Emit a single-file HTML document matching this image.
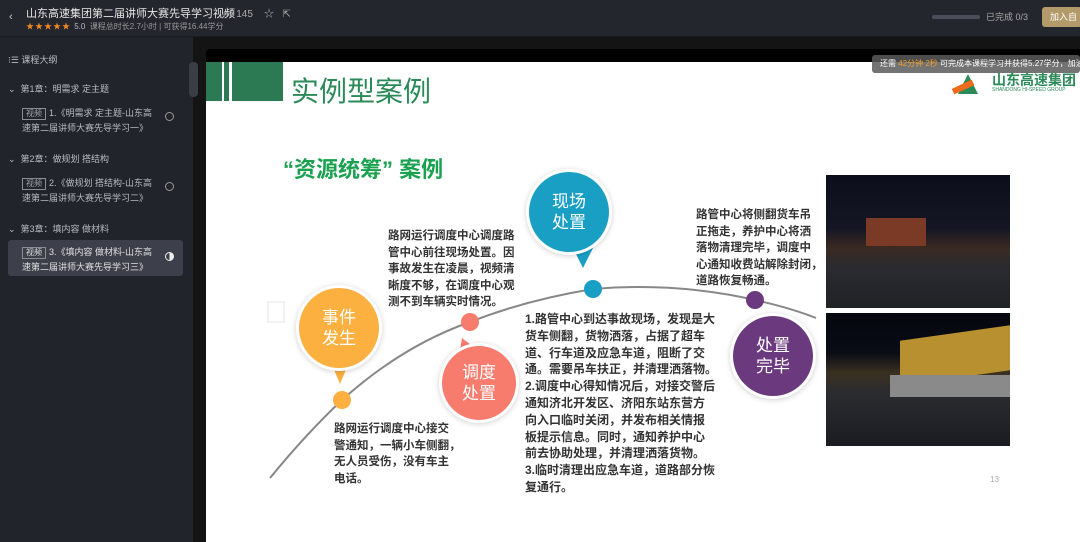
<!DOCTYPE html>
<html><head><meta charset="utf-8"><style>
*{margin:0;padding:0;box-sizing:border-box}
body{width:1080px;height:542px;overflow:hidden;background:#141414;font-family:"Liberation Sans","Noto Sans CJK SC",sans-serif;position:relative}
.a{position:absolute}
.side{left:0;top:37px;width:193px;height:505px;background:#21242b}
.top{left:0;top:0;width:1080px;height:37px;background:#23262d;border-bottom:1px solid #1a1c20}
.st{color:#b8bbc2;font-size:9px}
.tag{display:inline-block;border:1px solid #8a8d94;color:#a0a3a9;font-size:8px;padding:0 3px;line-height:10px;margin-right:3px}
.slide{left:206px;top:62px;width:874px;height:480px;background:#fff}
.t{color:#333;font-size:11.5px;line-height:16.6px;font-weight:bold;white-space:nowrap}
.b{position:absolute;border-radius:50%;color:#fff;font-size:17px;line-height:21px;text-align:center;display:flex;align-items:center;justify-content:center;box-shadow:0 0 0 3px #fff,0 1px 6px 3px rgba(0,0,0,.18)}
</style></head><body>
<div class="a top"></div>
<div class="a" style="left:9px;top:11px;color:#ccc;font-size:11px">‹</div>
<div class="a" style="left:26px;top:5px;color:#e6e6e6;font-size:11px">山东高速集团第二届讲师大赛先导学习视频</div>
<div class="a" style="left:223px;top:5px;color:#aaa;font-size:10px">👍︎ 145 &nbsp;&nbsp; ☆ &nbsp; ⇱</div>
<div class="a" style="left:26px;top:21px;color:#f08a24;font-size:8px;letter-spacing:1px">★★★★★ <span style="color:#bbb;letter-spacing:0">5.0 &nbsp;<span style="color:#999">课程总时长2.7小时 | 可获得16.44学分</span></span></div>
<div class="a" style="left:932px;top:15px;width:48px;height:4px;border-radius:2px;background:#4a4e5a"></div>
<div class="a" style="left:986px;top:10px;color:#aaa;font-size:9px">已完成 0/3</div>
<div class="a" style="left:1042px;top:7px;width:40px;height:20px;border-radius:3px;background:#b39a6a;color:#fff;font-size:9px;line-height:20px;padding-left:8px">加入自</div>
<div class="a side"></div>
<div class="a st" style="left:8px;top:53px">⁝☰ 课程大纲</div>
<div class="a st" style="left:8px;top:82px">⌄ &nbsp;第1章：明需求 定主题</div>
<div class="a st" style="left:22px;top:106px;line-height:15px"><span class="tag">视频</span>1.《明需求 定主题-山东高<br>速第二届讲师大赛先导学习一》</div>
<div class="a st" style="left:8px;top:152px">⌄ &nbsp;第2章：做规划 搭结构</div>
<div class="a st" style="left:22px;top:176px;line-height:15px"><span class="tag">视频</span>2.《做规划 搭结构-山东高<br>速第二届讲师大赛先导学习二》</div>
<div class="a st" style="left:8px;top:222px">⌄ &nbsp;第3章：填内容 做材料</div>
<div class="a" style="left:8px;top:240px;width:175px;height:36px;background:#3d404b;border-radius:3px"></div>
<div class="a st" style="left:22px;top:245px;line-height:15px;color:#e0e0e0"><span class="tag" style="color:#ddd">视频</span>3.《填内容 做材料-山东高<br>速第二届讲师大赛先导学习三》</div>
<div class="a" style="left:165px;top:112px;width:9px;height:9px;border:1px solid #999;border-radius:50%"></div>
<div class="a" style="left:165px;top:182px;width:9px;height:9px;border:1px solid #999;border-radius:50%"></div>
<div class="a" style="left:165px;top:252px;width:9px;height:9px;border:1px solid #eee;border-radius:50%;background:linear-gradient(90deg,transparent 50%,#eee 50%)"></div>
<div class="a" style="left:189px;top:62px;width:9px;height:35px;border-radius:4px;background:#3a3d46"></div>
<div class="a" style="left:206px;top:49px;width:874px;height:14px;background:#000;border-radius:4px 0 0 0"></div>
<div class="a slide"></div>
<div class="a" style="left:206px;top:62px;width:16px;height:39px;background:#2b7a54"></div>
<div class="a" style="left:224px;top:62px;width:5px;height:39px;background:#2b7a54"></div>
<div class="a" style="left:232px;top:62px;width:51px;height:39px;background:#2b7a54"></div>
<div class="a" style="left:291px;top:70px;color:#2b8a58;font-size:28px">实例型案例</div>
<div class="a" style="left:872px;top:55px;width:208px;height:18px;background:rgba(90,90,90,.85);border-radius:3px;color:#fff;font-size:8px;line-height:18px;padding-left:8px;white-space:nowrap;overflow:hidden">还需 <span style="color:#f0a030">42分钟 2秒</span> 可完成本课程学习并获得5.27学分，加油!</div>
<div class="a" style="left:958px;top:74px;width:0;height:0;border-left:10px solid transparent;border-right:10px solid transparent;border-bottom:20px solid #2b8a58"></div>
<div class="a" style="left:952px;top:84px;width:22px;height:6px;background:#f06a1c;transform:rotate(-25deg)"></div>
<div class="a" style="left:992px;top:70px;color:#2b8a58;font-size:14px;font-weight:bold">山东高速集团</div>
<div class="a" style="left:992px;top:87px;color:#2b8a58;font-size:5px">SHANDONG HI-SPEED GROUP</div>
<div class="a" style="left:283px;top:152px;color:#1aa150;font-size:22px;font-weight:bold">“资源统筹” 案例</div>
<svg class="a" style="left:206px;top:62px" width="874" height="480">
<path d="M64 416 Q100 372 136 338 Q196 284 264 260 Q320 238 387 227 Q470 220 549 238 Q585 246 610 256" stroke="#888" stroke-width="2" fill="none"/>
<rect x="62" y="240" width="16" height="20" fill="none" stroke="#e4e4e4"/>
<circle cx="136" cy="338" r="9" fill="#fbb040"/>
<circle cx="264" cy="260" r="9" fill="#f87c6e"/>
<circle cx="387" cy="227" r="9" fill="#1a9fc4"/>
<circle cx="549" cy="238" r="9" fill="#6b3a7e"/>
<polygon points="124,298 144,298 134,322" fill="#fbb040"/>
<polygon points="252,300 274,290 256,276" fill="#f87c6e"/>
<polygon points="366,184 388,184 377,206" fill="#1a9fc4"/>
<polygon points="544,276 568,276 552,258" fill="#6b3a7e"/>
<text x="784" y="420" font-size="8" fill="#aaa" font-family="Liberation Sans">13</text>
</svg>
<div class="b" style="left:299px;top:288px;width:80px;height:80px;background:#fbb040">事件<br>发生</div>
<div class="b" style="left:442px;top:346px;width:74px;height:74px;background:#f87c6e">调度<br>处置</div>
<div class="b" style="left:529px;top:172px;width:80px;height:80px;background:#1a9fc4">现场<br>处置</div>
<div class="b" style="left:733px;top:316px;width:80px;height:80px;background:#6b3a7e">处置<br>完毕</div>
<div class="a t" style="left:388px;top:228px">路网运行调度中心调度路<br>管中心前往现场处置。因<br>事故发生在凌晨，视频清<br>晰度不够，在调度中心观<br>测不到车辆实时情况。</div>
<div class="a t" style="left:334px;top:421px">路网运行调度中心接交<br>警通知，一辆小车侧翻，<br>无人员受伤，没有车主<br>电话。</div>
<div class="a t" style="left:525px;top:311px;font-size:12px;line-height:16.8px">1.路管中心到达事故现场，发现是大<br>货车侧翻，货物洒落，占据了超车<br>道、行车道及应急车道，阻断了交<br>通。需要吊车扶正，并清理洒落物。<br>2.调度中心得知情况后，对接交警后<br>通知济北开发区、济阳东站东营方<br>向入口临时关闭，并发布相关情报<br>板提示信息。同时，通知养护中心<br>前去协助处理，并清理洒落货物。<br>3.临时清理出应急车道，道路部分恢<br>复通行。</div>
<div class="a t" style="left:696px;top:207px">路管中心将侧翻货车吊<br>正拖走，养护中心将洒<br>落物清理完毕，调度中<br>心通知收费站解除封闭，<br>道路恢复畅通。</div>
<div class="a" style="left:826px;top:175px;width:184px;height:133px;background:linear-gradient(180deg,#0c0e1c 0%,#141624 40%,#3a2a22 55%,#2a2a30 70%,#202226 100%)"></div>
<div class="a" style="left:866px;top:218px;width:60px;height:28px;background:#7a3a26"></div>
<div class="a" style="left:826px;top:313px;width:184px;height:133px;background:linear-gradient(180deg,#05070e 0%,#0a0c16 30%,#3a3020 45%,#2a2c30 60%,#1a1c22 100%)"></div>
<div class="a" style="left:900px;top:333px;width:110px;height:45px;background:#b89030;transform:skewY(-8deg)"></div>
<div class="a" style="left:890px;top:375px;width:120px;height:22px;background:#8a8a8a"></div>
</body></html>
